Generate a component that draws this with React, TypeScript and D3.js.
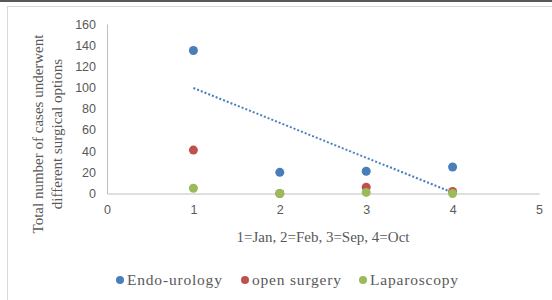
import React, { useRef, useEffect } from "react";
import * as d3 from "d3";

const months = [1, 2, 3, 4];
const endoUrology = [135, 20, 21, 25];
const openSurgery = [41, 0, 6, 2];
const laparoscopy = [5, 0, 1, 0];
const seriesNames = ["Endo-urology", "open surgery", "Laparoscopy"];
const seriesColors = ["#4a7ebb", "#c0504d", "#9bbb59"];
const xTicks = [0, 1, 2, 3, 4, 5];
const yTicks = [0, 20, 40, 60, 80, 100, 120, 140, 160];

const serif = "'Liberation Serif', 'Times New Roman', serif";
const sans = "'Liberation Sans', Arial, sans-serif";

const App = () => {
  const container = useRef<SVGSVGElement>(null);

  const width = 552;
  const height = 300;

  useEffect(() => {
    const svg = d3.select(container.current);
    svg.selectAll("*").remove();

    // frame lines like the pasted excel object
    svg.append("rect").attr("x", 0).attr("y", 0).attr("width", width).attr("height", 2).attr("fill", "#595959");
    svg.append("line").attr("x1", 7).attr("x2", width).attr("y1", 6.5).attr("y2", 6.5).attr("stroke", "#d9d9d9");
    svg.append("line").attr("x1", 7.5).attr("x2", 7.5).attr("y1", 6).attr("y2", height).attr("stroke", "#d9d9d9");

    const xScale = d3.scaleLinear().domain([0, 5]).range([107, 539]);
    const yScale = d3.scaleLinear().domain([0, 160]).range([193.5, 24]);

    // axes
    const yAxis = d3.axisLeft(yScale).tickValues(yTicks).tickSize(0).tickPadding(11).tickFormat(d3.format("d"));
    const gy = svg.append("g").attr("transform", `translate(${xScale(0)},0)`).call(yAxis);
    gy.select(".domain").attr("stroke", "#bfbfbf");
    gy.selectAll("text")
      .style("font-family", sans)
      .style("font-size", "12.5px")
      .style("fill", "#595959");

    const xAxis = d3.axisBottom(xScale).tickValues(xTicks).tickSize(0).tickPadding(12).tickFormat(d3.format("d"));
    const gx = svg.append("g").attr("transform", `translate(0,${yScale(0)})`).call(xAxis);
    gx.select(".domain").attr("stroke", "#bfbfbf");
    gx.selectAll("text")
      .style("font-family", sans)
      .style("font-size", "12.5px")
      .style("fill", "#595959");

    // linear trendline for Endo-urology
    const mx = d3.mean(months) as number;
    const my = d3.mean(endoUrology) as number;
    const slope =
      d3.sum(months, (m, i) => (m - mx) * (endoUrology[i] - my)) /
      d3.sum(months, (m) => (m - mx) * (m - mx));
    const trend = (x: number) => my + slope * (x - mx);
    svg
      .append("line")
      .attr("x1", xScale(1))
      .attr("y1", yScale(trend(1)))
      .attr("x2", xScale(4))
      .attr("y2", yScale(trend(4)))
      .attr("stroke", seriesColors[0])
      .attr("stroke-width", 2)
      .attr("stroke-dasharray", "2,2");

    // points
    const allSeries = [endoUrology, openSurgery, laparoscopy];
    allSeries.forEach((vals, s) => {
      svg
        .append("g")
        .selectAll("circle")
        .data(vals)
        .enter()
        .append("circle")
        .attr("cx", (d, i) => xScale(months[i]))
        .attr("cy", (d) => yScale(d))
        .attr("r", 4.5)
        .attr("fill", seriesColors[s]);
    });

    // axis titles
    svg
      .append("text")
      .attr("x", xScale(2.5))
      .attr("y", 242)
      .attr("text-anchor", "middle")
      .style("font-family", serif)
      .style("font-size", "15px")
      .style("fill", "#595959")
      .text("1=Jan, 2=Feb, 3=Sep, 4=Oct");

    const yTitle = svg
      .append("text")
      .attr("transform", "translate(43,134) rotate(-90)")
      .attr("text-anchor", "middle")
      .style("font-family", serif)
      .style("font-size", "15px")
      .style("fill", "#595959");
    yTitle.append("tspan").attr("x", 0).attr("y", 0).text("Total number of cases underwent");
    yTitle.append("tspan").attr("x", 0).attr("y", 19).text("different surgical options");

    // legend
    const legendX = [120, 245, 363];
    const legend = svg.append("g");
    legend
      .selectAll("circle")
      .data(seriesNames)
      .enter()
      .append("circle")
      .attr("cx", (d, i) => legendX[i])
      .attr("cy", 280)
      .attr("r", 4)
      .attr("fill", (d, i) => seriesColors[i]);
    legend
      .selectAll("text")
      .data(seriesNames)
      .enter()
      .append("text")
      .attr("x", (d, i) => legendX[i] + 7)
      .attr("y", 285)
      .style("font-family", serif)
      .style("font-size", "15.5px")
      .style("letter-spacing", "0.8px")
      .style("fill", "#595959")
      .text((d) => d);
  }, []);

  return (
    <svg
      ref={container}
      width={width}
      height={height}
      style={{ position: "absolute", left: 0, top: 0, background: "#ffffff" }}
    />
  );
};

export default App;
